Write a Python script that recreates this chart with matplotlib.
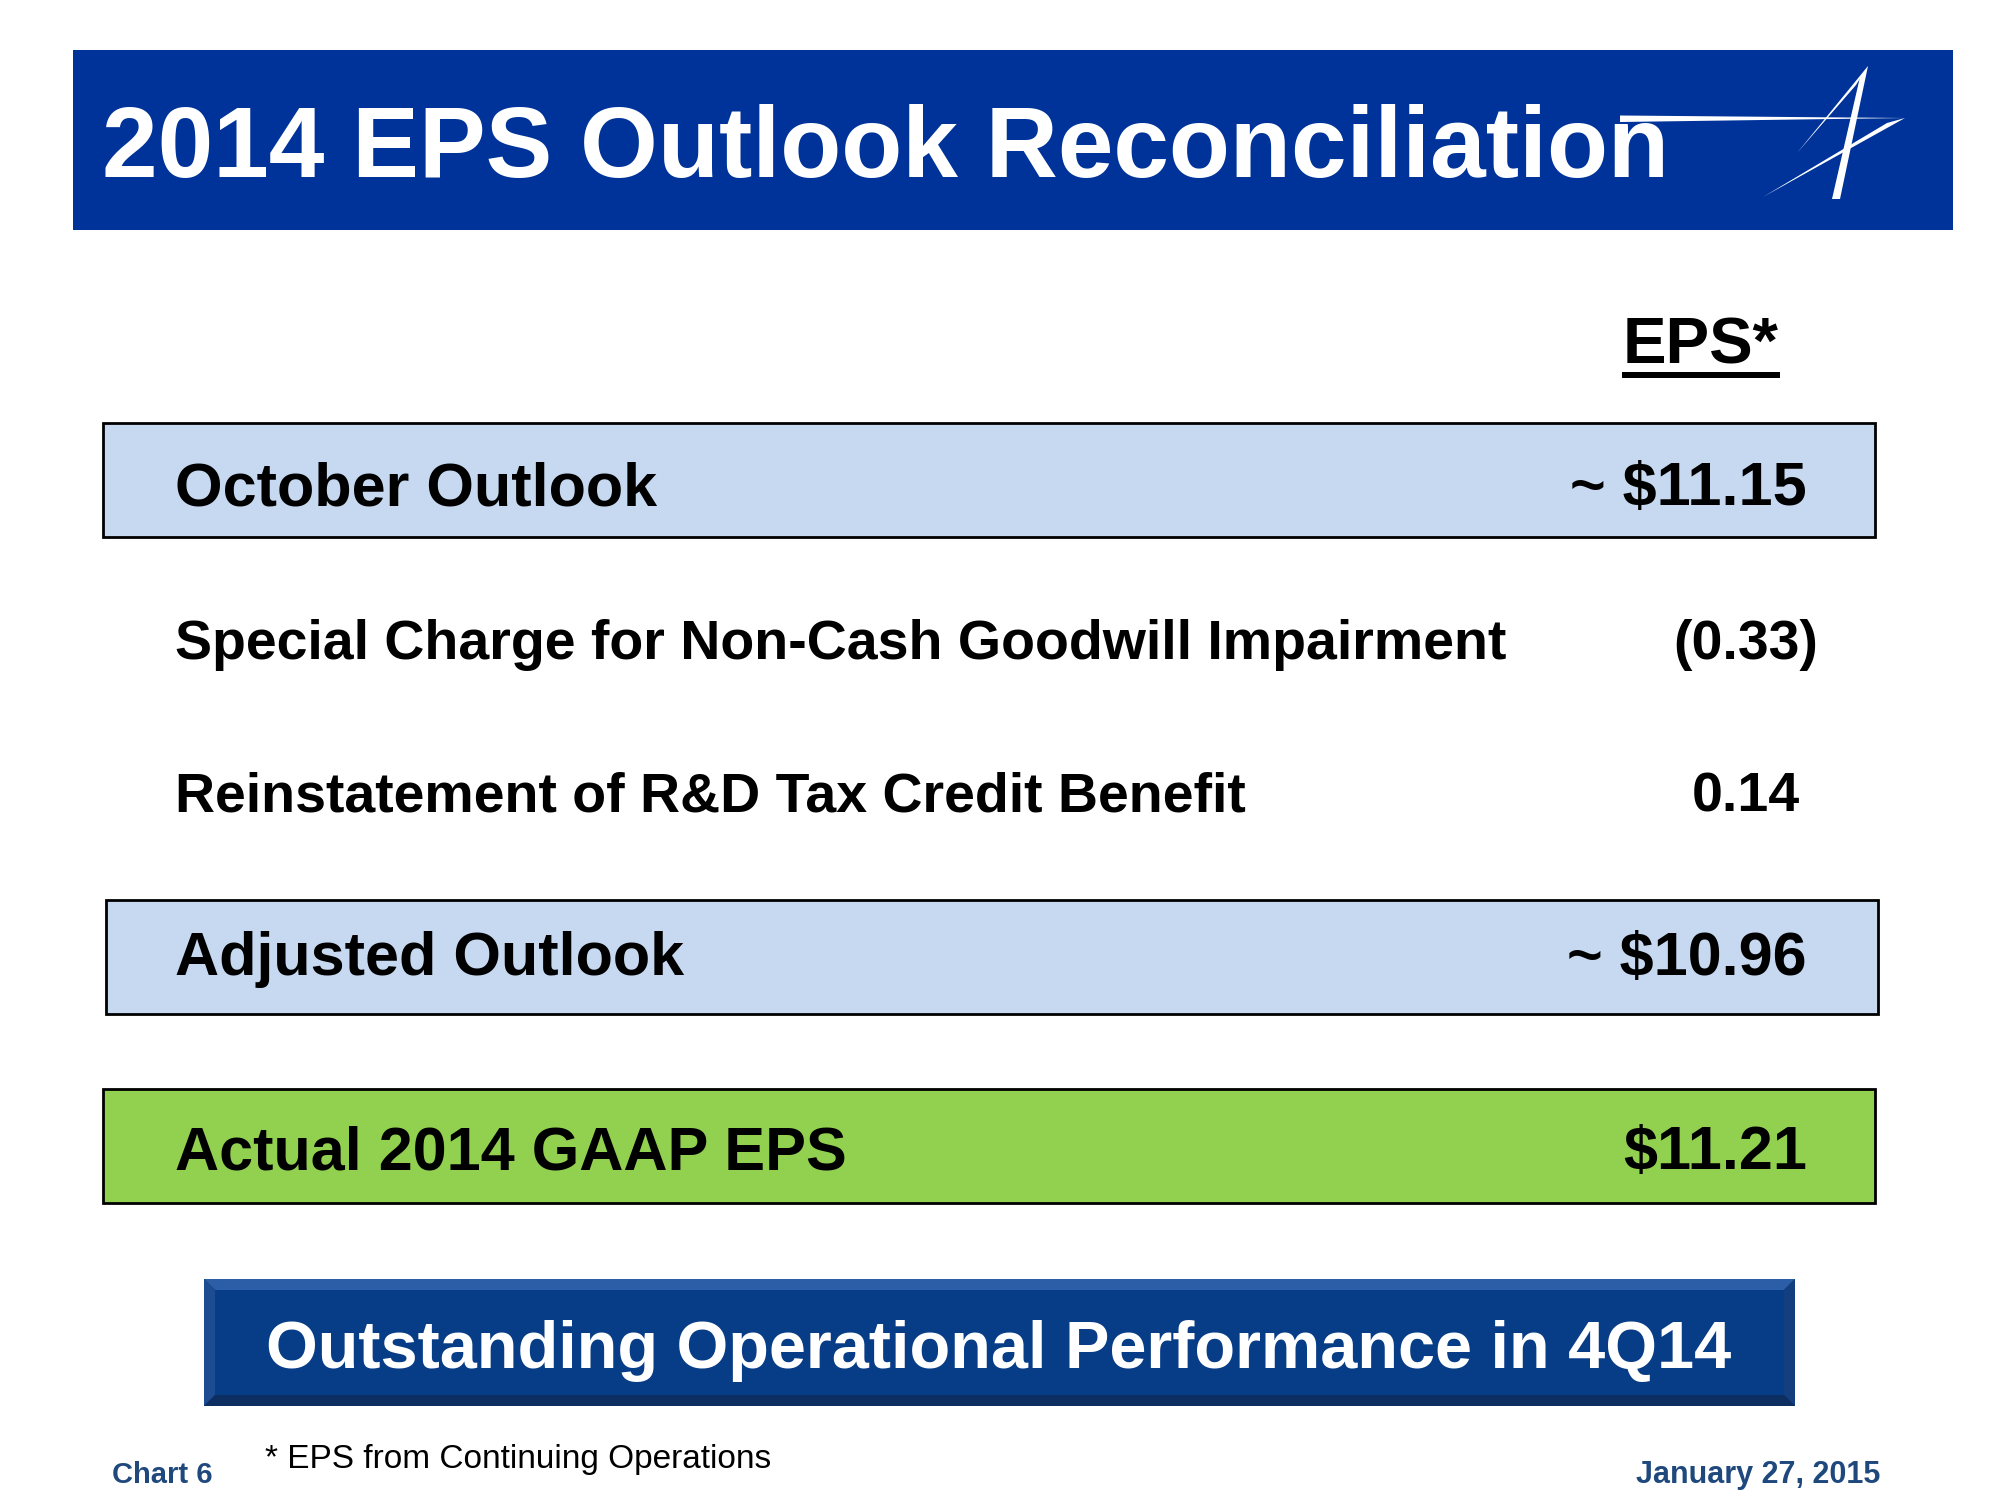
import matplotlib.pyplot as plt
from matplotlib.patches import Rectangle, Polygon

plt.rcParams['font.family'] = ['Liberation Sans', 'DejaVu Sans']

# Slide content
title = "2014 EPS Outlook Reconciliation"
column_header = "EPS*"
row_labels = [
    "October Outlook",
    "Special Charge for Non-Cash Goodwill Impairment",
    "Reinstatement of R&D Tax Credit Benefit",
    "Adjusted Outlook",
    "Actual 2014 GAAP EPS",
]
row_values = ["~ $11.15", "(0.33)", "0.14", "~ $10.96", "$11.21"]
banner_text = "Outstanding Operational Performance in 4Q14"
footnote = "* EPS from Continuing Operations"
chart_label = "Chart 6"
date_label = "January 27, 2015"

# layout (pixels, top-left origin); y values are text baselines
row_base = [505, 659, 811, 975, 1169]
row_box = [(103, 423, 1772, 114, "#C6D9F1"), None, None,
           (106, 900, 1772, 114, "#C6D9F1"), (103, 1089, 1772, 114, "#92D050")]
row_size = [44, 40, 40, 44, 44]
value_x = [1807, 1818, 1800, 1807, 1807]

fig = plt.figure(figsize=(20, 15), dpi=100)
ax = fig.add_axes([0, 0, 1, 1])
ax.set_xlim(0, 2000)
ax.set_ylim(1500, 0)
ax.axis("off")

# header bar
ax.add_patch(Rectangle((73, 50), 1880, 180, facecolor="#00339A", edgecolor="none"))
ax.text(102, 177, title, color="white", fontsize=72, fontweight="bold",
        va="baseline", ha="left")

# logo strokes
ax.add_patch(Polygon([(1620, 115.5), (1905, 118), (1620, 122)], closed=True,
                     facecolor="white", edgecolor="none"))
ax.add_patch(Polygon([(1868, 66), (1840, 199), (1832, 199), (1860, 77)], closed=True,
                     facecolor="white", edgecolor="none"))
ax.add_patch(Polygon([(1868, 66), (1797, 153), (1856, 85)], closed=True,
                     facecolor="white", edgecolor="none"))
ax.add_patch(Polygon([(1905, 118), (1763, 197), (1887, 123)], closed=True,
                     facecolor="white", edgecolor="none"))

# column header
ax.text(1701, 364, column_header, fontsize=47, fontweight="bold", ha="center",
        va="baseline", color="black")
ax.add_patch(Rectangle((1622, 372), 158, 6, facecolor="black", edgecolor="none"))

# rows
for label, val, y, box, fs, vx in zip(row_labels, row_values, row_base, row_box,
                                        row_size, value_x):
    if box is not None:
        x0, y0, w, h, fc = box
        ax.add_patch(Rectangle((x0, y0), w, h, facecolor=fc, edgecolor="black",
                               lw=2))
    ax.text(175, y, label, fontsize=fs, fontweight="bold", va="baseline",
            ha="left", color="black")
    ax.text(vx, y, val, fontsize=fs, fontweight="bold", va="baseline",
            ha="right", color="black")

# bottom banner with bevel
bx0, by0, bx1, by1, bev = 204, 1279, 1795, 1406, 11
ax.add_patch(Rectangle((bx0, by0), bx1 - bx0, by1 - by0, facecolor="#0B2F63",
                       edgecolor="none"))
ax.add_patch(Polygon([(bx0, by0), (bx1, by0), (bx1 - bev, by0 + bev),
                      (bx0 + bev, by0 + bev)], facecolor="#2B5EA6", edgecolor="none"))
ax.add_patch(Polygon([(bx0, by0), (bx0 + bev, by0 + bev), (bx0 + bev, by1 - bev),
                      (bx0, by1)], facecolor="#1D4C92", edgecolor="none"))
ax.add_patch(Polygon([(bx1, by0), (bx1 - bev, by0 + bev), (bx1 - bev, by1 - bev),
                      (bx1, by1)], facecolor="#133F80", edgecolor="none"))
ax.add_patch(Polygon([(bx0, by1), (bx0 + bev, by1 - bev), (bx1 - bev, by1 - bev),
                      (bx1, by1)], facecolor="#0C2E60", edgecolor="none"))
ax.add_patch(Rectangle((bx0 + bev, by0 + bev), bx1 - bx0 - 2 * bev,
                       by1 - by0 - 2 * bev, facecolor="#073C86", edgecolor="none"))
ax.text(999, 1368, banner_text, color="white", fontsize=48, fontweight="bold",
        ha="center", va="baseline")

# footer
ax.text(112, 1483, chart_label, color="#1F497D", fontsize=21, fontweight="bold",
        ha="left", va="baseline")
ax.text(265, 1468, footnote, color="black", fontsize=24, ha="left", va="baseline")
ax.text(1880, 1483, date_label, color="#1F497D", fontsize=22, fontweight="bold",
        ha="right", va="baseline")

fig.savefig("out.png", dpi=100)
